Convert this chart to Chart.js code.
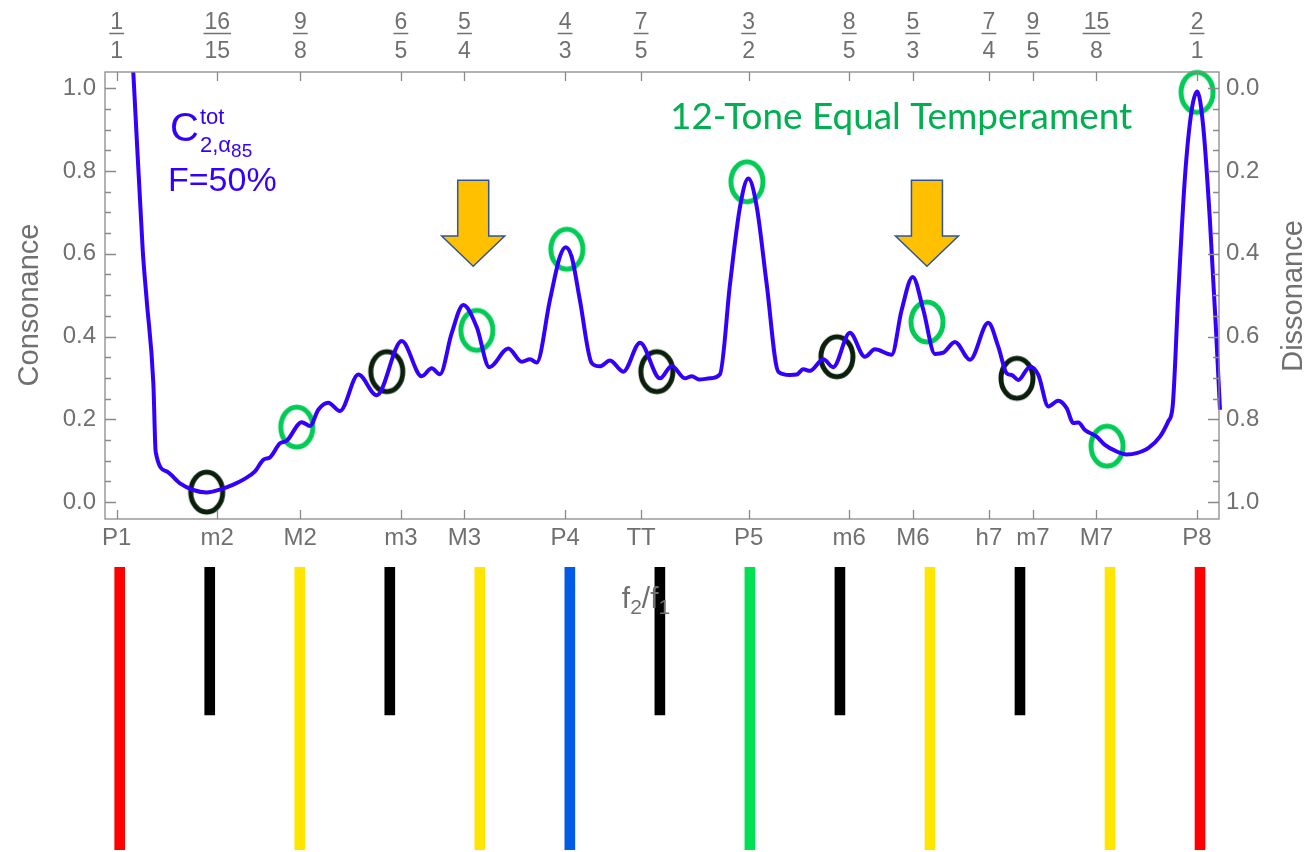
<!DOCTYPE html>
<html>
<head>
<meta charset="utf-8">
<script src="https://cdn.jsdelivr.net/npm/chart.js@4.4.1/dist/chart.umd.min.js"></script>
<style>
  html, body { margin: 0; padding: 0; background: #ffffff; }
  #wrap { position: relative; width: 1311px; height: 852px; overflow: hidden; }
  #keys { position: absolute; left: 0; top: 567px; }
  #main { position: absolute; left: 0; top: 0; }
</style>
</head>
<body>
<div id="wrap">
  <canvas id="keys" width="1311" height="283"></canvas>
  <canvas id="main" width="1311" height="852"></canvas>
</div>
<script>
// ---- data -------------------------------------------------------------
// Interval size in cents (0 = unison, 1200 = octave) and total consonance.
const curveCents = [
  0, 18.4, 28.9, 33.3, 40.7, 43.3, 55.5, 70.3, 85.1, 100, 114.7, 129.5, 140.6,
  153.6, 162.8, 170.3, 181.4, 188.8, 205.5, 214.8, 223.9, 235, 248, 268.4, 288.8,
  316.6, 338.8, 349.9, 359.1, 372.1, 385, 399.9, 413.9, 435, 449.9, 459.1, 466.5,
  481.2, 492.3, 498.7, 505.3, 514.5, 527.6, 536.8, 547.9, 562.7, 581.3, 603.5,
  616.5, 631.2, 638.7, 647.1, 659, 670.1, 681.3, 692.4, 701.6, 710.9, 721.9,
  734.9, 747.8, 755.3, 762.6, 770.1, 784.9, 795.9, 814.4, 831, 842.2, 860.8,
  871.9, 884.2, 896, 908.9, 918.1, 931.1, 947.8, 968.1, 979.3, 988.6, 994.1,
  1001.5, 1014.5, 1023.7, 1034.8, 1045.9, 1055.2, 1062.5, 1068.1, 1075.5, 1088.5,
  1097.7, 1108.8, 1121.8, 1132.9, 1145.8, 1158.8, 1168, 1172.9, 1179.2, 1186.6,
  1194.1, 1200.3, 1206.9, 1214.3, 1220.9, 1225.5
];
const consonance = [
  1.70, 1.040, 0.609, 0.488, 0.287, 0.121, 0.074, 0.045, 0.029, 0.023, 0.030, 0.042, 0.054,
  0.074, 0.102, 0.108, 0.142, 0.148, 0.193, 0.184, 0.223, 0.240, 0.220, 0.308, 0.258,
  0.389, 0.304, 0.323, 0.309, 0.408, 0.476, 0.423, 0.326, 0.371, 0.339, 0.345, 0.337,
  0.488, 0.593, 0.616, 0.593, 0.488, 0.336, 0.328, 0.342, 0.315, 0.385, 0.299,
  0.329, 0.299, 0.304, 0.296, 0.299, 0.309, 0.528, 0.714, 0.782, 0.714, 0.528,
  0.315, 0.307, 0.308, 0.321, 0.317, 0.345, 0.326, 0.409, 0.351, 0.369, 0.356,
  0.464, 0.544, 0.464, 0.358, 0.361, 0.387, 0.344, 0.433, 0.375, 0.311, 0.307,
  0.295, 0.327, 0.307, 0.231, 0.245, 0.227, 0.191, 0.192, 0.174, 0.158,
  0.138, 0.124, 0.115, 0.118, 0.130, 0.158, 0.195, 0.231, 0.504, 0.786,
  0.948, 0.992, 0.907, 0.681, 0.423, 0.223
];

// Just-intonation reference ratios shown on the frame
const intervalNames = ['P1', 'm2', 'M2', 'm3', 'M3', 'P4', 'TT', 'P5', 'm6', 'M6', 'h7', 'm7', 'M7', 'P8'];
const ratioNum = [1, 16, 9, 6, 5, 4, 7, 3, 8, 5, 7, 9, 15, 2];
const ratioDen = [1, 15, 8, 5, 4, 3, 5, 2, 5, 3, 4, 5, 8, 1];

// 12-tone equal temperament steps marked with rings on the curve
const ringCents = [100, 200, 300, 400, 500, 600, 700, 800, 900, 1000, 1100, 1200];
const ringValues = [0.024, 0.181, 0.315, 0.415, 0.611, 0.315, 0.774, 0.351, 0.435, 0.299, 0.135, 0.990];
const ringKinds = ['dark', 'green', 'dark', 'green', 'green', 'dark', 'green', 'dark', 'green', 'dark', 'green', 'green'];

// Colour keys under the axis, one per equal-tempered step
const keyCents = [0, 100, 200, 300, 400, 500, 600, 700, 800, 900, 1000, 1100, 1200];
const keyColors = ['#ff0000', '#000000', '#ffe500', '#000000', '#ffe500', '#005ce6', '#000000',
                   '#00e055', '#000000', '#ffe500', '#000000', '#ffe500', '#ff0000'];
const keyLengths = [1, 0.523, 1, 0.523, 1, 1, 0.523, 1, 0.523, 1, 0.523, 1, 1];

// Highlight arrows (x in cents; top, head base and tip in consonance units)
const arrowCents = [396, 900];
const arrowLevels = [0.778, 0.643, 0.570];

// ---- style ------------------------------------------------------------
const X_MIN = -13.0, X_MAX = 1224.4;
const Y_MIN = -0.0411, Y_MAX = 1.0394;
const CURVE = '#3300ff';
const GREY = '#707070';
const FRAME = '#8a8a8a';
const SANS = '"Liberation Sans", Arial, sans-serif';
const tickCents = ratioNum.map((n, i) => 1200 * Math.log2(n / ratioDen[i]));
const majorTicks = [0, 0.2, 0.4, 0.6, 0.8, 1.0];

function ringImage(color) {
  const c = document.createElement('canvas');
  c.width = 42; c.height = 50;
  const g = c.getContext('2d');
  g.strokeStyle = color;
  g.lineWidth = 5;
  g.beginPath();
  g.ellipse(21, 25, 16, 20, 0, 0, Math.PI * 2);
  g.stroke();
  return c;
}
const ringStyles = { green: ringImage('#00cc55'), dark: ringImage('#0a1f0c') };

// ---- colour keys --------------------------------------------------------
new Chart(document.getElementById('keys'), {
  type: 'bar',
  data: {
    datasets: [{
      data: keyCents.map((c, i) => ({ x: c, y: [0, keyLengths[i]] })),
      backgroundColor: keyColors,
      borderWidth: 0,
      barThickness: 10
    }]
  },
  options: {
    responsive: false, animation: false, devicePixelRatio: 1, events: [],
    layout: { padding: { left: 108, right: 89, top: 0, bottom: 0 } },
    scales: {
      x: { type: 'linear', min: X_MIN, max: X_MAX, offset: false, display: false },
      y: { min: 0, max: 1, reverse: true, display: false }
    },
    plugins: { legend: { display: false }, tooltip: { enabled: false } }
  }
});

// ---- frame, ticks and labels -------------------------------------------
const framePlugin = {
  id: 'frame',
  afterDraw(chart) {
    const { ctx, chartArea: a } = chart;
    const { x, x2, y, y2 } = chart.scales;
    ctx.save();
    ctx.strokeStyle = FRAME;
    ctx.lineWidth = 1.3;
    ctx.strokeRect(a.left, a.top, a.right - a.left, a.bottom - a.top);
    ctx.beginPath();
    x.ticks.forEach(t => {
      const px = Math.round(x.getPixelForValue(t.value)) + 0.5;
      ctx.moveTo(px, a.bottom); ctx.lineTo(px, a.bottom - 9);
      ctx.moveTo(px, a.top); ctx.lineTo(px, a.top + 9);
    });
    for (let k = 0; k <= 20; k++) {
      const len = k % 4 === 0 ? 11 : 6;
      const pl = Math.round(y.getPixelForValue(k * 0.05)) + 0.5;
      ctx.moveTo(a.left, pl); ctx.lineTo(a.left + len, pl);
      const pr = Math.round(y2.getPixelForValue(k * 0.05)) + 0.5;
      ctx.moveTo(a.right, pr); ctx.lineTo(a.right - len, pr);
    }
    ctx.stroke();

    // fraction bars of the ratio labels
    ctx.strokeStyle = GREY;
    ctx.lineWidth = 1.4;
    ctx.font = '23px ' + SANS;
    ctx.beginPath();
    x2.ticks.forEach((t, i) => {
      const px = x2.getPixelForValue(t.value);
      const w = Math.max(ctx.measureText(String(ratioNum[i])).width,
                         ctx.measureText(String(ratioDen[i])).width) + 2;
      ctx.moveTo(px - w / 2, a.top - 38.5); ctx.lineTo(px + w / 2, a.top - 38.5);
    });
    ctx.stroke();

    // axis titles
    ctx.fillStyle = GREY;
    ctx.textAlign = 'center';
    ctx.textBaseline = 'middle';
    ctx.font = '29px ' + SANS;
    ctx.save(); ctx.translate(30, 305); ctx.rotate(-Math.PI / 2); ctx.fillText('Consonance', 0, 0); ctx.restore();
    ctx.save(); ctx.translate(1294, 296); ctx.rotate(-Math.PI / 2); ctx.fillText('Dissonance', 0, 0); ctx.restore();

    // f2/f1 under the interval names
    const parts = [['f', 30, 0], ['2', 21, 6], ['/', 30, 0], ['f', 30, 0], ['1', 21, 6]];
    ctx.textAlign = 'left';
    ctx.textBaseline = 'alphabetic';
    let total = 0;
    parts.forEach(p => { ctx.font = p[1] + 'px ' + SANS; total += ctx.measureText(p[0]).width; });
    let cx = 646 - total / 2;
    parts.forEach(p => {
      ctx.font = p[1] + 'px ' + SANS;
      ctx.fillText(p[0], cx, 608 + p[2]);
      cx += ctx.measureText(p[0]).width;
    });
    ctx.restore();
  }
};

const notePlugin = {
  id: 'notes',
  afterDatasetsDraw(chart) {
    const { ctx } = chart;
    const { x, y } = chart.scales;
    ctx.save();
    // arrows
    arrowCents.forEach(c => {
      const px = x.getPixelForValue(c);
      const top = y.getPixelForValue(arrowLevels[0]);
      const base = y.getPixelForValue(arrowLevels[1]);
      const tip = y.getPixelForValue(arrowLevels[2]);
      ctx.beginPath();
      ctx.moveTo(px - 15.5, top); ctx.lineTo(px + 15.5, top);
      ctx.lineTo(px + 15.5, base); ctx.lineTo(px + 31.5, base);
      ctx.lineTo(px, tip); ctx.lineTo(px - 31.5, base);
      ctx.lineTo(px - 15.5, base); ctx.closePath();
      ctx.fillStyle = '#ffc000';
      ctx.fill();
      ctx.strokeStyle = '#2f5597';
      ctx.lineWidth = 1.5;
      ctx.stroke();
    });

    // curve label
    ctx.fillStyle = CURVE;
    ctx.textAlign = 'left';
    ctx.textBaseline = 'alphabetic';
    ctx.font = '40px ' + SANS;
    ctx.fillText('C', 170, 141);
    ctx.font = '22px ' + SANS;
    ctx.fillText('tot', 200, 124);
    ctx.fillText('2,α', 200, 152);
    const sw = ctx.measureText('2,α').width;
    ctx.font = '19px ' + SANS;
    ctx.fillText('85', 200 + sw, 157);
    ctx.font = '34px ' + SANS;
    ctx.fillText('F=50%', 168, 191);

    // temperament caption
    const caption = '12-Tone Equal Temperament';
    ctx.font = '100px Lato, "Open Sans", sans-serif';
    const size = 100 * 462 / ctx.measureText(caption).width;
    ctx.font = size.toFixed(1) + 'px Lato, "Open Sans", sans-serif';
    ctx.fillStyle = '#00b050';
    ctx.fillText(caption, 670, 128.5);
    ctx.restore();
  }
};

// ---- main chart ---------------------------------------------------------
const tickFont = { family: SANS, size: 24 };
new Chart(document.getElementById('main'), {
  type: 'line',
  data: {
    datasets: [
      {
        type: 'line',
        data: curveCents.map((c, i) => ({ x: c, y: consonance[i] })),
        borderColor: CURVE,
        borderWidth: 4,
        pointRadius: 0,
        cubicInterpolationMode: 'monotone',
        fill: false,
        clip: { left: 0, top: 0, right: 4, bottom: 0 },
        order: 0
      },
      {
        type: 'scatter',
        data: ringCents.map((c, i) => ({ x: c, y: ringValues[i] })),
        pointStyle: ringKinds.map(k => ringStyles[k]),
        pointRadius: 10,
        clip: false,
        order: 1
      }
    ]
  },
  options: {
    responsive: false, animation: false, devicePixelRatio: 1, events: [],
    layout: { padding: 0 },
    plugins: { legend: { display: false }, tooltip: { enabled: false } },
    scales: {
      x: {
        type: 'linear', position: 'bottom', min: X_MIN, max: X_MAX,
        afterFit: s => { s.height = 333; },
        afterBuildTicks: s => { s.ticks = tickCents.map(v => ({ value: v })); },
        ticks: { autoSkip: false, maxRotation: 0, minRotation: 0, padding: 5, color: GREY, font: tickFont,
                 callback: (v, i) => intervalNames[i] },
        grid: { display: false, drawTicks: false }, border: { display: false }
      },
      x2: {
        type: 'linear', position: 'top', min: X_MIN, max: X_MAX,
        afterFit: s => { s.height = 72; },
        afterBuildTicks: s => { s.ticks = tickCents.map(v => ({ value: v })); },
        ticks: { autoSkip: false, maxRotation: 0, minRotation: 0, padding: 6, color: GREY,
                 font: { family: SANS, size: 23, lineHeight: 29 / 23 },
                 callback: (v, i) => [String(ratioNum[i]), String(ratioDen[i])] },
        grid: { display: false, drawTicks: false }, border: { display: false }
      },
      y: {
        type: 'linear', position: 'left', min: Y_MIN, max: Y_MAX,
        afterFit: s => { s.width = 105; },
        afterBuildTicks: s => { s.ticks = majorTicks.map(v => ({ value: v })); },
        ticks: { padding: 9, color: GREY, font: tickFont, callback: v => v.toFixed(1) },
        grid: { display: false, drawTicks: false }, border: { display: false }
      },
      y2: {
        type: 'linear', position: 'right', min: 1 - Y_MAX, max: 1 - Y_MIN, reverse: true,
        afterFit: s => { s.width = 92; },
        afterBuildTicks: s => { s.ticks = majorTicks.map(v => ({ value: v })); },
        ticks: { padding: 7, color: GREY, font: tickFont, callback: v => v.toFixed(1) },
        grid: { display: false, drawTicks: false }, border: { display: false }
      }
    }
  },
  plugins: [framePlugin, notePlugin]
});
</script>
</body>
</html>
